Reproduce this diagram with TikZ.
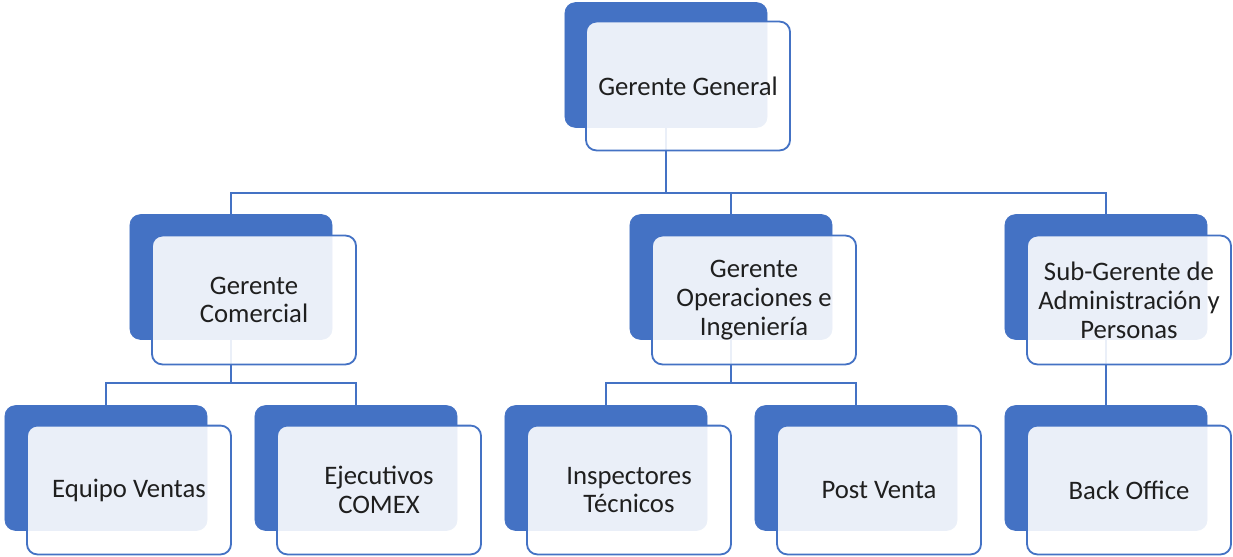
\documentclass[tikz,border=0pt]{standalone}
\usepackage{fontspec}
\setmainfont{Carlito}
\usepackage{xcolor}
\usetikzlibrary{positioning}
\definecolor{orgblue}{HTML}{4472C4}

\begin{document}
\begin{tikzpicture}[
      x = 0.025cm, y = -0.025cm,
      font = \fontsize{19}{20.5}\selectfont,
      back/.style  = {draw = orgblue, fill = orgblue, rounded corners = 2.6mm,
                      minimum width = 5.05cm, minimum height = 3.12cm,
                      inner sep = 0pt, line width = .5pt},
      front/.style = {draw = orgblue, fill = white, fill opacity = .89,
                      text opacity = 1, text = black!88, align = center,
                      rounded corners = 2.6mm, minimum width = 5.1cm,
                      minimum height = 3.22cm, inner sep = 2pt,
                      line width = 1.3pt},
      conn/.style  = {draw = orgblue, line width = 1.4pt}
    ]
  \useasboundingbox (0,0) rectangle (1233,557);

  % back plates -----------------------------------------------------------
  \node[back] (ggb) at (666,65)  {};
  \node[back] (gcb) at (231,277) {};
  \node[back] (gob) at (731,277) {};
  \node[back] (sgb) at (1106,277) {};
  \node[back] (evb) at (106,468) {};
  \node[back] (ecb) at (356,468) {};
  \node[back] (itb) at (606,468) {};
  \node[back] (pvb) at (856,468) {};
  \node[back] (bob) at (1106,468) {};

  % connectors ------------------------------------------------------------
  \coordinate (top)  at (666,193);
  \coordinate (com)  at (231,383);
  \coordinate (ope)  at (731,383);
  \draw[conn] (ggb.south) -- (top);
  \draw[conn] (top) -| (gcb.north);
  \draw[conn] (top) -| (gob.north);
  \draw[conn] (top) -| (sgb.north);
  \draw[conn] (gcb.south) -- (com);
  \draw[conn] (com) -| (evb.north);
  \draw[conn] (com) -| (ecb.north);
  \draw[conn] (gob.south) -- (ope);
  \draw[conn] (ope) -| (itb.north);
  \draw[conn] (ope) -| (pvb.north);
  \draw[conn] (sgb.south) -- (bob.north);

  % front cards -----------------------------------------------------------
  \node[front] (gg) at (688,86)   {Gerente General};
  \node[front] (gc) at (254,300)  {Gerente\\Comercial};
  \node[front] (go) at (754,300)  {Gerente\\Operaciones e\\Ingeniería};
  \node[front] (sg) at (1129,300) {Sub-Gerente de\\Administración y\\Personas};
  \node[front] (ev) at (129,490)  {Equipo Ventas};
  \node[front] (ec) at (379,490)  {Ejecutivos\\COMEX};
  \node[front] (it) at (629,490)  {Inspectores\\Técnicos};
  \node[front] (pv) at (879,490)  {Post Venta};
  \node[front] (bo) at (1129,490) {Back Office};

  \end{tikzpicture}
\end{document}
